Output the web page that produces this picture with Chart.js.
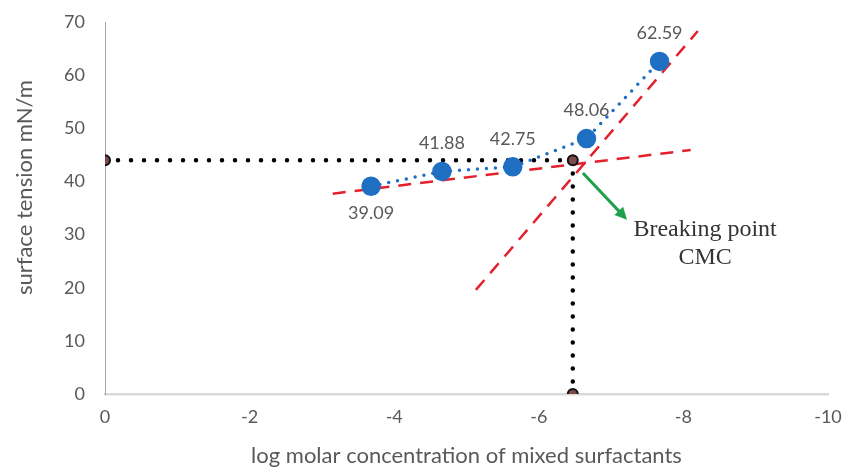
<!DOCTYPE html>
<html>
<head>
<meta charset="utf-8">
<script src="https://cdn.jsdelivr.net/npm/chart.js@4.4.1/dist/chart.umd.min.js"></script>
<style>
  html, body { margin: 0; padding: 0; background: #fff; }
  #wrap { width: 844px; height: 469px; }
</style>
</head>
<body>
<div id="wrap"><canvas id="cmc-chart" width="844" height="469"></canvas></div>
<script>
// measured points (log conc vs surface tension)
const logConc = [-3.68, -4.66, -5.64, -6.66, -7.67];
const tension = [39.09, 41.88, 42.75, 48.06, 62.59];

// the two red trend lines
const trendLowX = [-3.15, -8.1];
const trendLowY = [37.7, 45.9];
const trendHighX = [-5.13, -8.2];
const trendHighY = [19.6, 68.3];

// black dotted guide to the breaking point
const guideX = [0, -6.47, -6.47];
const guideY = [44, 44, 0];

// green arrow + label
const arrowX = [-6.61, -7.22];
const arrowY = [41.6, 32.8];
const noteX = -8.3;
const noteY = 30.9;
const noteLines = ['Breaking point', 'CMC'];

const yTicks = [0, 10, 20, 30, 40, 50, 60, 70];
const yTitle = 'surface tension mN/m';
const xTitle = 'log molar concentration of mixed surfactants';

const toXY = (xs, ys) => xs.map((x, i) => ({ x: x, y: ys[i] }));

const labelPlugin = {
  id: 'labels',
  afterDatasetsDraw(chart) {
    const ctx = chart.ctx;
    const xs = chart.scales.x, ys = chart.scales.y;
    const area = chart.chartArea;

    // value labels
    ctx.save();
    ctx.font = '18px Lato';
    ctx.fillStyle = '#595959';
    ctx.textAlign = 'center';
    ctx.textBaseline = 'middle';
    tension.forEach((v, i) => {
      const px = xs.getPixelForValue(logConc[i]);
      const py = ys.getPixelForValue(v);
      const below = i === 0;
      ctx.fillText(v.toFixed(2), px, below ? py + 27 : py - 28);
    });
    ctx.restore();

    // y title (sits a bit above the middle in the original)
    ctx.save();
    ctx.font = '22px Lato';
    ctx.fillStyle = '#595959';
    ctx.textAlign = 'center';
    ctx.textBaseline = 'middle';
    ctx.translate(25, area.top + (area.bottom - area.top) * 0.445);
    ctx.rotate(-Math.PI / 2);
    ctx.fillText(yTitle, 0, 0);
    ctx.restore();

    // green arrow
    const x1 = xs.getPixelForValue(arrowX[0]), y1 = ys.getPixelForValue(arrowY[0]);
    const x2 = xs.getPixelForValue(arrowX[1]), y2 = ys.getPixelForValue(arrowY[1]);
    const ang = Math.atan2(y2 - y1, x2 - x1);
    ctx.save();
    ctx.strokeStyle = '#1fa04a';
    ctx.fillStyle = '#1fa04a';
    ctx.lineWidth = 3;
    ctx.beginPath();
    ctx.moveTo(x1, y1);
    ctx.lineTo(x2 - 8 * Math.cos(ang), y2 - 8 * Math.sin(ang));
    ctx.stroke();
    ctx.beginPath();
    ctx.moveTo(x2, y2);
    ctx.lineTo(x2 - 12 * Math.cos(ang) + 6 * Math.sin(ang), y2 - 12 * Math.sin(ang) - 6 * Math.cos(ang));
    ctx.lineTo(x2 - 12 * Math.cos(ang) - 6 * Math.sin(ang), y2 - 12 * Math.sin(ang) + 6 * Math.cos(ang));
    ctx.closePath();
    ctx.fill();
    ctx.restore();

    // note text
    ctx.save();
    ctx.font = '24px "Liberation Serif"';
    ctx.fillStyle = '#333';
    ctx.textAlign = 'center';
    ctx.textBaseline = 'middle';
    const nx = xs.getPixelForValue(noteX), ny = ys.getPixelForValue(noteY);
    noteLines.forEach((t, i) => ctx.fillText(t, nx, ny + i * 28));
    ctx.restore();
  }
};

new Chart(document.getElementById('cmc-chart'), {
  type: 'scatter',
  data: {
    datasets: [
      {
        label: 'surface tension',
        data: toXY(logConc, tension),
        showLine: true,
        borderColor: '#1f6fc2',
        borderWidth: 3.5,
        borderDash: [0, 9],
        borderCapStyle: 'round',
        pointRadius: 8,
        pointBackgroundColor: '#1f6fc2',
        pointBorderColor: '#1f6fc2',
        order: 1
      },
      {
        label: 'trend low',
        data: toXY(trendLowX, trendLowY),
        showLine: true,
        borderColor: '#e3202c',
        borderWidth: 2.5,
        borderDash: [13, 9],
        pointRadius: 0,
        order: 3
      },
      {
        label: 'trend high',
        data: toXY(trendHighX, trendHighY),
        showLine: true,
        borderColor: '#e3202c',
        borderWidth: 2.5,
        borderDash: [13, 9],
        pointRadius: 0,
        order: 3
      },
      {
        label: 'guide',
        data: toXY(guideX, guideY),
        showLine: true,
        borderColor: '#000',
        borderWidth: 4.5,
        borderDash: [0, 13],
        borderCapStyle: 'round',
        pointRadius: 5,
        pointBorderWidth: 2,
        pointBackgroundColor: '#7c4a4a',
        pointBorderColor: '#111',
        order: 2
      }
    ]
  },
  options: {
    responsive: false,
    animation: false,
    layout: { padding: { top: 22, right: 16, left: 0, bottom: 0 } },
    plugins: {
      legend: { display: false },
      tooltip: { enabled: false }
    },
    scales: {
      x: {
        type: 'linear',
        min: -10,
        max: 0,
        reverse: true,
        afterFit: s => { s.height = 75; s.paddingLeft = 0; s.paddingRight = 0; },
        grid: { display: true, color: 'rgba(0,0,0,0)', drawTicks: false },
        border: { display: true, color: '#d9d9d9', width: 2.5 },
        ticks: { stepSize: 2, padding: 12, color: '#595959', font: { family: 'Lato', size: 18 } },
        title: {
          display: true,
          text: xTitle,
          color: '#595959',
          font: { family: 'Lato', size: 22 },
          padding: { top: 6, bottom: 0 }
        }
      },
      y: {
        min: 0,
        max: 70,
        afterFit: s => { s.width = 105; s.paddingTop = 0; s.paddingBottom = 0; },
        afterBuildTicks: s => { s.ticks = yTicks.map(v => ({ value: v })); },
        grid: { display: true, color: 'rgba(0,0,0,0)', drawTicks: false },
        border: { display: true, color: '#a6a6a6', width: 1 },
        ticks: { padding: 20, color: '#595959', font: { family: 'Lato', size: 18 } },
        title: { display: false }
      }
    }
  },
  plugins: [labelPlugin]
});
</script>
</body>
</html>
